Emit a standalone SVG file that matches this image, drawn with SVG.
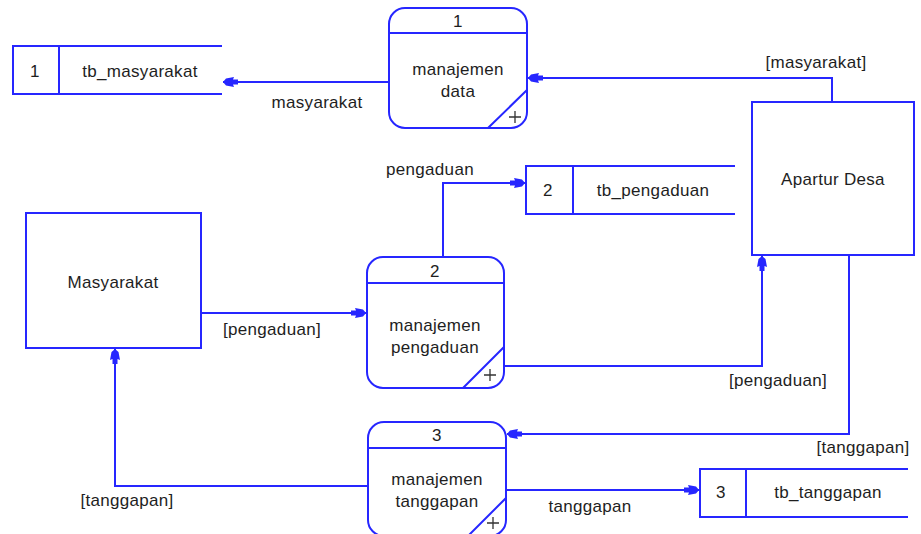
<svg xmlns="http://www.w3.org/2000/svg" width="921" height="534" viewBox="0 0 921 534">
  <style>
    .ln { fill: none; stroke: #2626ff; stroke-width: 2; }
    .box { fill: #ffffff; stroke: #2626ff; stroke-width: 2; }
    .t { font-family: "Liberation Sans", Arial, sans-serif; font-size: 17px; letter-spacing: 0.3px; fill: #1e1e1e; text-anchor: middle; }
    .plus { fill: none; stroke: #333333; stroke-width: 1.3; }
  </style>
  <defs>
    <marker id="arrow" markerUnits="userSpaceOnUse" markerWidth="18" markerHeight="14" viewBox="-16 -7 18 14" refX="0" refY="0" orient="auto">
      <path d="M0,0 L-3,-3.5 L-11,-5 L-10,-2.5 L-15,-2.5 L-15,2.5 L-10,2.5 L-11,5 L-3,3.5 Z" fill="#2626ff"/>
    </marker>
  </defs>

  <rect width="921" height="534" fill="#ffffff"/>

  <!-- data flows -->
  <g id="connectors">
    <path class="ln" d="M389,82 H223" marker-end="url(#arrow)"/>
    <path class="ln" d="M832,102 V78 H528" marker-end="url(#arrow)"/>
    <path class="ln" d="M201,313 H366" marker-end="url(#arrow)"/>
    <path class="ln" d="M443,257 V183 H525" marker-end="url(#arrow)"/>
    <path class="ln" d="M504,366 H762 V256" marker-end="url(#arrow)"/>
    <path class="ln" d="M849,255 V434 H507" marker-end="url(#arrow)"/>
    <path class="ln" d="M368,486 H115 V349" marker-end="url(#arrow)"/>
    <path class="ln" d="M506,490 H699" marker-end="url(#arrow)"/>
    <text class="t" x="317" y="108">masyarakat</text>
    <text class="t" x="816" y="68">[masyarakat]</text>
    <text class="t" x="272" y="335">[pengaduan]</text>
    <text class="t" x="430" y="175">pengaduan</text>
    <text class="t" x="778" y="386">[pengaduan]</text>
    <text class="t" x="863" y="453">[tanggapan]</text>
    <text class="t" x="127" y="506">[tanggapan]</text>
    <text class="t" x="590" y="512">tanggapan</text>
  </g>

  <!-- external entities -->
  <g id="masyarakat">
    <rect class="box" x="26" y="213" width="175" height="135"/>
    <text class="t" x="113" y="288">Masyarakat</text>
  </g>
  <g id="apartur-desa">
    <rect class="box" x="752" y="102" width="162" height="153"/>
    <text class="t" x="833" y="185">Apartur Desa</text>
  </g>

  <!-- processes -->
  <g id="proses-1">
    <rect class="box" x="389" y="8" width="138" height="120" rx="16" ry="16"/>
    <path class="ln" d="M389,33 H527 M488,128 L527,90"/>
    <path class="plus" d="M509,117 H521 M515,111 V123"/>
    <text class="t" x="458" y="27">1</text>
    <text class="t" x="458" y="75">manajemen</text>
    <text class="t" x="458" y="97">data</text>
  </g>
  <g id="proses-2">
    <rect class="box" x="367" y="257" width="137" height="131" rx="16" ry="16"/>
    <path class="ln" d="M367,283 H504 M463,388 L504,347"/>
    <path class="plus" d="M484,375 H496 M490,369 V381"/>
    <text class="t" x="435" y="277">2</text>
    <text class="t" x="435" y="331">manajemen</text>
    <text class="t" x="435" y="353">pengaduan</text>
  </g>
  <g id="proses-3">
    <rect class="box" x="368" y="422" width="138" height="114" rx="16" ry="16"/>
    <path class="ln" d="M368,448 H506 M468,536 L506,498"/>
    <path class="plus" d="M487,523 H499 M493,517 V529"/>
    <text class="t" x="437" y="441">3</text>
    <text class="t" x="437" y="485">manajemen</text>
    <text class="t" x="437" y="507">tanggapan</text>
  </g>

  <!-- data stores -->
  <g id="tb-masyarakat">
    <path class="ln" d="M222,46 H13 V94 H222 M59,46 V94"/>
    <text class="t" x="35" y="77">1</text>
    <text class="t" x="140" y="77">tb_masyarakat</text>
  </g>
  <g id="tb-pengaduan">
    <path class="ln" d="M735,166 H526 V214 H735 M573,166 V214"/>
    <text class="t" x="548" y="196">2</text>
    <text class="t" x="653" y="196">tb_pengaduan</text>
  </g>
  <g id="tb-tanggapan">
    <path class="ln" d="M908,469 H700 V517 H908 M746,469 V517"/>
    <text class="t" x="721" y="498">3</text>
    <text class="t" x="828" y="498">tb_tanggapan</text>
  </g>
</svg>
